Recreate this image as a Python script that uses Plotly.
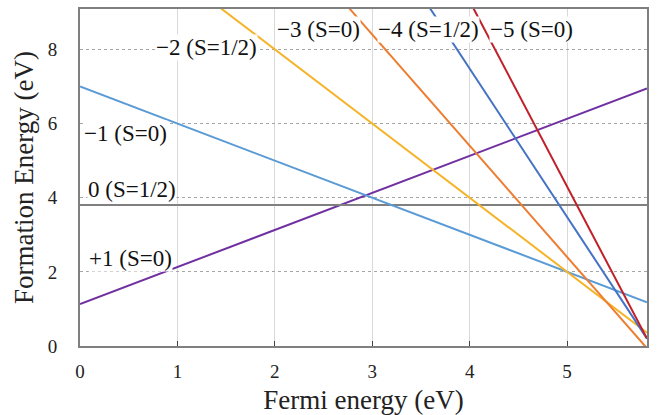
import plotly.graph_objects as go

fermi = [0.0, 5.82]
e_p1 = [1.13, 6.95]
e_0 = [3.8, 3.8]
e_m1 = [7.0, 1.18]
e_m2 = [12.0, 0.36]
e_m3 = [17.4, -0.06]
e_m4 = [23.48, 0.2]
e_m5 = [29.3, 0.2]

series = [
    ("+1 (S=0)", e_p1, "#7030A0"),
    ("0 (S=1/2)", e_0, "#808080"),
    ("\u22121 (S=0)", e_m1, "#5B9BD5"),
    ("\u22122 (S=1/2)", e_m2, "#F5B328"),
    ("\u22123 (S=0)", e_m3, "#ED7D31"),
    ("\u22124 (S=1/2)", e_m4, "#4472C4"),
    ("\u22125 (S=0)", e_m5, "#C0202A"),
]

label_x = [0.08, 0.07, 0.03, 0.77, 2.01, 3.05, 4.2]
label_y = [2.37, 4.23, 5.72, 8.05, 8.53, 8.53, 8.55]

SERIF = "Liberation Serif, Times New Roman, Times, serif"

fig = go.Figure()
for name, ys, col in series:
    fig.add_trace(go.Scatter(x=fermi, y=ys, mode="lines", name=name,
                             line=dict(color=col, width=2), showlegend=False))

for (name, ys, col), lx, ly in zip(series, label_x, label_y):
    fig.add_annotation(x=lx, y=ly, text=name, showarrow=False, xanchor="left",
                       yanchor="middle", bgcolor="white", borderpad=0,
                       font=dict(family=SERIF, size=23, color="#111"))

fig.update_layout(
    width=660, height=415,
    margin=dict(l=80, r=13, t=9, b=69),
    paper_bgcolor="white", plot_bgcolor="white",
    font=dict(family=SERIF, color="#222"),
    xaxis=dict(range=[0, 5.82], tickvals=[0, 1, 2, 3, 4, 5], showgrid=True,
               automargin=False,
               gridcolor="#d9d9d9", gridwidth=1, zeroline=False,
               showline=True, linecolor="#7f7f7f", linewidth=2, mirror=True,
               ticks="inside", ticklen=5, tickcolor="#444", ticklabelstandoff=7,
               tickfont=dict(size=19, family=SERIF),
               title=dict(text="Fermi energy (eV)", font=dict(size=27, family=SERIF),
                          standoff=11)),
    yaxis=dict(range=[0, 9.09], tickvals=[0, 2, 4, 6, 8], showgrid=True,
               automargin=False,
               gridcolor="#a6a6a6", gridwidth=1, griddash="dot", zeroline=False,
               showline=True, linecolor="#7f7f7f", linewidth=2, mirror=True,
               ticks="", ticklabelstandoff=17,
               tickfont=dict(size=19, family=SERIF),
               title=dict(text="Formation Energy (eV)", font=dict(size=27, family=SERIF),
                          standoff=6)),
)

fig.write_html("out.html")
